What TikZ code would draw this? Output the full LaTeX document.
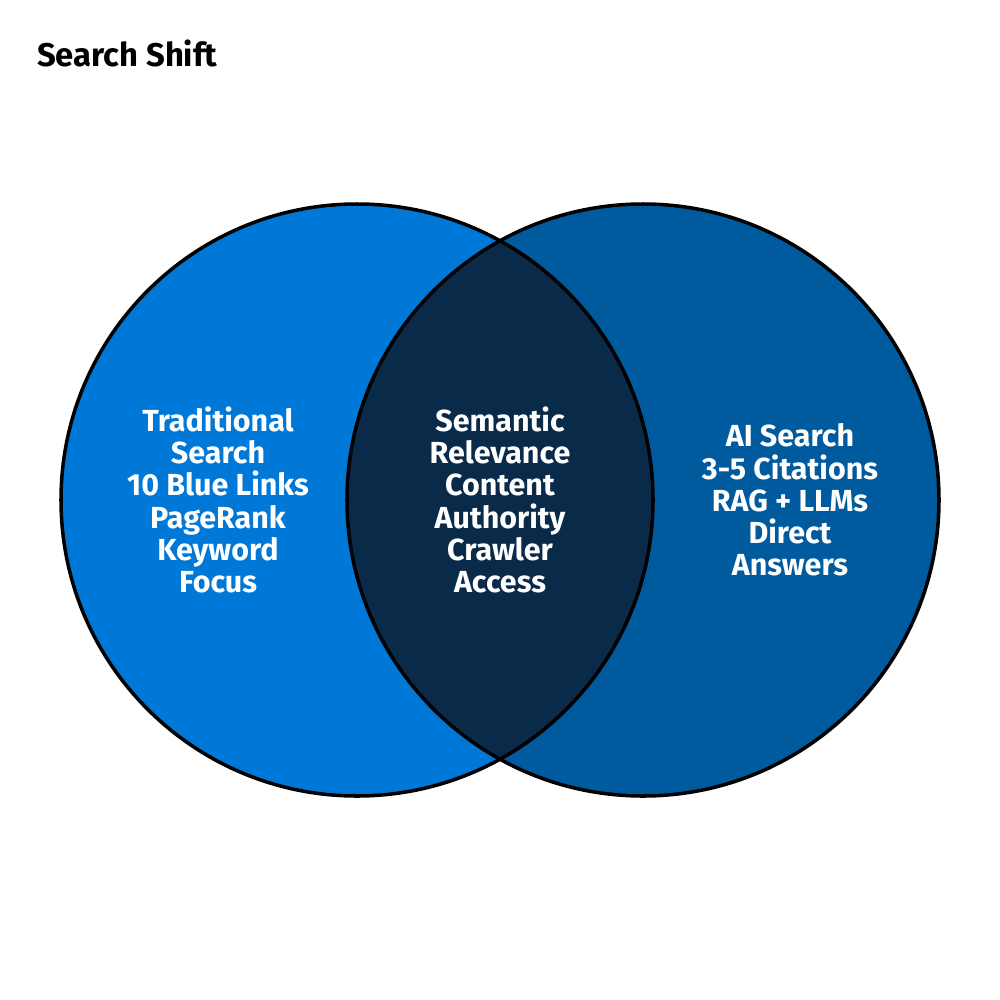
\documentclass[tikz,border=0pt]{standalone}
\usepackage{fontspec}
\setmainfont{Fira Sans}
\definecolor{tradblue}{HTML}{0078D7}
\definecolor{aiblue}{HTML}{005A9E}
\definecolor{overlapblue}{HTML}{0A2A4A}
\tikzset{
    setlabel/.style={text=white, align=center, font=\fontsize{26}{27.5}\selectfont\bfseries},
    ring/.style={draw=black, line width=3pt}
}
\begin{document}
\begin{tikzpicture}[x=0.3mm, y=-0.3mm]
    \useasboundingbox[fill=white] (0,0) rectangle (1000,1000);

    \node[anchor=west, font=\fontsize{28}{30}\selectfont\bfseries] (title) at (33,53) {Search Shift};

    \fill[tradblue] (357,500) circle (296);
    \fill[aiblue] (643,500) circle (296);
    \begin{scope}
        \clip (357,500) circle (296);
        \fill[overlapblue] (643,500) circle (296);
    \end{scope}
    \draw[ring] (357,500) circle (296);
    \draw[ring] (643,500) circle (296);

    \node[setlabel] (trad) at (218,500) {Traditional\\Search\\10 Blue Links\\PageRank\\Keyword\\Focus};
    \node[setlabel] (both) at (500,500) {Semantic\\Relevance\\Content\\Authority\\Crawler\\Access};
    \node[setlabel] (ai) at (790,500) {AI Search\\3-5 Citations\\RAG + LLMs\\Direct\\Answers};
\end{tikzpicture}
\end{document}
